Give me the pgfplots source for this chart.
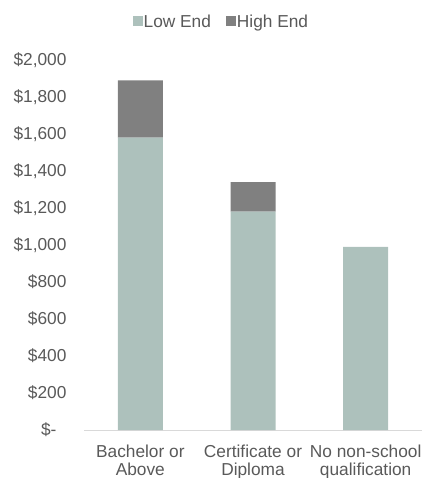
\documentclass[border=0pt]{standalone}
\usepackage{pgfplots}
\pgfplotsset{compat=1.18}
\usepackage{fontspec}
\setmainfont{Liberation Sans}
\definecolor{lowc}{HTML}{ADC1BC}
\definecolor{highc}{HTML}{808080}
\definecolor{txt}{HTML}{595959}
\begin{document}
\begin{tikzpicture}
\useasboundingbox (0,0) rectangle (422pt,478pt);
\begin{axis}[
  at={(84pt,48pt)}, anchor=south west,
  scale only axis, width=338pt, height=370pt,
  ybar stacked, bar width=45pt,
  xmin=-0.5, xmax=2.5, ymin=0, ymax=2000,
  clip=false,
  axis y line*=left,
  y axis line style={draw=none},
  axis x line*=bottom,
  x axis line style={draw=black!15, line width=1pt, -},
  xtick={0,1,2}, xticklabels={{Bachelor or\\Above},{Certificate or\\Diploma},{No non-school\\qualification}},
  major tick style={draw=none},
  xticklabel style={align=center, font=\fontsize{17.3}{18.5}\selectfont, text=txt, yshift=-11pt},
  ytick={0,200,400,600,800,1000,1200,1400,1600,1800,2000},
  yticklabels={{\$-\rule{10pt}{0pt}},\$200,\$400,\$600,\$800,{\$1,000},{\$1,200},{\$1,400},{\$1,600},{\$1,800},{\$2,000}},
  yticklabel style={xshift=-14pt},
  every tick label/.append style={font=\fontsize{17.3}{18.5}\selectfont, text=txt},
  legend columns=2,
  legend style={draw=none, at={(axis description cs:0.405,1.103)}, anchor=center,
    font=\fontsize{17.3}{18.5}\selectfont, text=txt,
    /tikz/every even column/.append style={column sep=14pt},
    nodes={inner sep=1pt}},
  legend image code/.code={\fill[#1] (0pt,-4pt) rectangle (10pt,6pt);},
]
\addplot[fill=lowc, draw=none] coordinates {(0,1580) (1,1180) (2,990)};
\addplot[fill=highc, draw=none] coordinates {(0,310) (1,160) (2,0)};
\legend{Low End, High End}
\end{axis}
\end{tikzpicture}
\end{document}
